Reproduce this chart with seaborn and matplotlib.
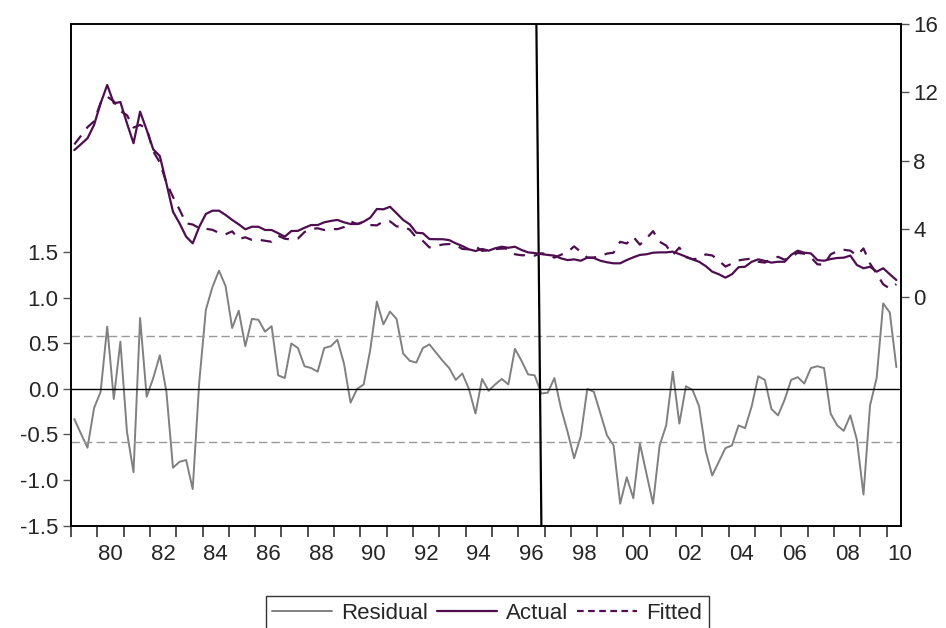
import matplotlib
matplotlib.use("Agg")
import matplotlib.pyplot as plt
import matplotlib.ticker as mticker
from matplotlib.lines import Line2D
import pandas as pd
import seaborn as sns

sns.set_theme(style="white")
plt.rcParams["font.family"] = ["Liberation Sans", "DejaVu Sans"]

PURPLE = "#4e0e50"
GREY = "#808080"
FS = 16

# quarterly sample 1979Q1 - 2010Q2
quarters = pd.period_range("1979Q1", "2010Q2", freq="Q")

residual = [
    -0.33, -0.49, -0.645, -0.21, -0.03, 0.685, -0.11, 0.52, -0.47, -0.915,
    0.78, -0.085, 0.12, 0.37, -0.03, -0.865, -0.80, -0.78, -1.10, 0.08,
    0.87, 1.12, 1.30, 1.13, 0.67, 0.86, 0.47, 0.77, 0.76, 0.63,
    0.69, 0.15, 0.12, 0.50, 0.45, 0.25, 0.23, 0.19, 0.45, 0.47,
    0.54, 0.28, -0.15, 0.00, 0.05, 0.43, 0.96, 0.71, 0.85, 0.77,
    0.39, 0.31, 0.29, 0.45, 0.49, 0.40, 0.31, 0.23, 0.10, 0.17,
    0.00, -0.27, 0.11, -0.02, 0.05, 0.11, 0.05, 0.44, 0.31, 0.16,
    0.15, -0.05, -0.04, 0.12, -0.21, -0.47, -0.76, -0.52, 0.00, -0.03,
    -0.27, -0.51, -0.62, -1.26, -0.97, -1.20, -0.60, -0.93, -1.26, -0.62,
    -0.40, 0.19, -0.38, 0.03, -0.01, -0.19, -0.68, -0.95, -0.80, -0.65,
    -0.62, -0.40, -0.43, -0.19, 0.14, 0.10, -0.22, -0.29, -0.12, 0.10,
    0.13, 0.06, 0.23, 0.25, 0.23, -0.27, -0.40, -0.46, -0.29, -0.56,
    -1.16, -0.18, 0.12, 0.94, 0.84, 0.24,
]

actual = [
    8.62, 8.96, 9.31, 10.09, 11.36, 12.43, 11.36, 11.43, 10.19, 9.02,
    10.87, 9.80, 8.66, 8.27, 6.67, 5.01, 4.33, 3.55, 3.16, 4.13,
    4.88, 5.07, 5.07, 4.82, 4.53, 4.27, 3.98, 4.13, 4.13, 3.94,
    3.94, 3.75, 3.55, 3.88, 3.89, 4.07, 4.23, 4.23, 4.39, 4.47,
    4.53, 4.39, 4.29, 4.29, 4.43, 4.66, 5.17, 5.15, 5.30, 4.92,
    4.53, 4.27, 3.78, 3.75, 3.41, 3.40, 3.40, 3.35, 3.16, 3.00,
    2.81, 2.71, 2.83, 2.73, 2.87, 2.96, 2.90, 2.96, 2.77, 2.63,
    2.59, 2.53, 2.48, 2.44, 2.28, 2.18, 2.22, 2.14, 2.32, 2.30,
    2.14, 2.05, 1.99, 1.99, 2.18, 2.34, 2.48, 2.52, 2.61, 2.63,
    2.63, 2.67, 2.53, 2.38, 2.22, 2.08, 1.83, 1.50, 1.35, 1.15,
    1.35, 1.76, 1.79, 2.08, 2.22, 2.13, 2.03, 2.08, 2.08, 2.48,
    2.73, 2.61, 2.57, 2.18, 2.14, 2.24, 2.30, 2.32, 2.44, 1.89,
    1.70, 1.79, 1.50, 1.70, 1.35, 1.01,
]

fitted = [
    8.95, 9.45, 9.96, 10.30, 11.39, 11.75, 11.47, 10.91, 10.66, 9.94,
    10.09, 9.89, 8.54, 7.90, 6.70, 5.88, 5.13, 4.33, 4.26, 4.05,
    4.01, 3.95, 3.77, 3.69, 3.86, 3.41, 3.51, 3.36, 3.37, 3.31,
    3.25, 3.60, 3.43, 3.38, 3.44, 3.82, 4.00, 4.04, 3.94, 4.00,
    3.99, 4.11, 4.44, 4.29, 4.38, 4.23, 4.21, 4.44, 4.45, 4.15,
    4.14, 3.96, 3.49, 3.30, 2.92, 3.00, 3.09, 3.12, 3.06, 2.83,
    2.81, 2.98, 2.72, 2.75, 2.82, 2.85, 2.85, 2.52, 2.46, 2.47,
    2.44, 2.58, 2.52, 2.32, 2.49, 2.65, 2.98, 2.66, 2.32, 2.33,
    2.41, 2.56, 2.61, 3.25, 3.15, 3.54, 3.08, 3.45, 3.87, 3.25,
    3.03, 2.48, 2.91, 2.35, 2.23, 2.27, 2.51, 2.45, 2.15, 1.80,
    1.97, 2.16, 2.22, 2.27, 2.08, 2.03, 2.25, 2.37, 2.20, 2.38,
    2.60, 2.55, 2.34, 1.93, 1.91, 2.51, 2.70, 2.78, 2.73, 2.45,
    2.86, 1.97, 1.38, 0.76, 0.51, 0.77,
]

resid_sd = 0.58                  # +/- 1 S.E. band
break_line = [1996.69, 1996.88]  # hand-drawn vertical marker (x at top, x at bottom)

df = pd.DataFrame({
    "t": [p.year + (p.quarter - 1) / 4 + 0.125 for p in quarters],
    "Residual": residual,
    "Actual": actual,
    "Fitted": fitted,
})

fig = plt.figure(figsize=(9.46, 6.28), dpi=100)
ax = fig.add_axes([0.0751, 0.1632, 0.8773, 0.7986])
ax2 = ax.twinx()

sns.lineplot(data=df, x="t", y="Residual", ax=ax, color=GREY, linewidth=1.4)
ax.axhline(0, color="black", linewidth=1.0)
for v in (resid_sd, -resid_sd):
    ax.axhline(v, color="#999999", linewidth=1.0, dashes=(6, 3))

sns.lineplot(data=df, x="t", y="Actual", ax=ax2, color=PURPLE, linewidth=1.6)
sns.lineplot(data=df, x="t", y="Fitted", ax=ax2, color=PURPLE, linewidth=1.6)
ax2.lines[-1].set_linestyle((0, (5, 4)))

ax.set_xlim(1979.0, 2010.55)
ax.set_ylim(-1.5, 4.01)
ax2.set_ylim(-13.36, 16.0)

ax.plot(break_line, [4.01, -1.5], color="black", linewidth=1.6, zorder=5)

# x axis: year ticks, labels centred on even years
ax.xaxis.set_major_locator(mticker.FixedLocator(range(1979, 2011)))
ax.xaxis.set_major_formatter(mticker.NullFormatter())
ax.xaxis.set_minor_locator(mticker.FixedLocator([y + 0.5 for y in range(1980, 2011, 2)]))
ax.xaxis.set_minor_formatter(mticker.FuncFormatter(lambda x, _: f"{int(x) % 100:02d}"))
ax.tick_params(axis="x", which="major", direction="out", length=8, width=1.2,
               color="#333333", bottom=True, labelbottom=False)
ax.tick_params(axis="x", which="minor", length=0, labelsize=FS, pad=13, bottom=True)

ax.set_yticks([-1.5, -1.0, -0.5, 0.0, 0.5, 1.0, 1.5])
ax.yaxis.set_major_formatter(mticker.FormatStrFormatter("%.1f"))
ax.tick_params(axis="y", direction="out", length=6, width=1.0, color="#555555",
               labelsize=FS, left=True, pad=3)
ax2.set_yticks([0, 4, 8, 12, 16])
ax2.tick_params(axis="y", direction="out", length=6, width=1.0, color="#555555",
                labelsize=FS, right=True, pad=3)

for a in (ax, ax2):
    a.set_xlabel("")
    a.set_ylabel("")
    a.grid(False)
    for s in a.spines.values():
        s.set_color("black")
        s.set_linewidth(1.2)

handles = [
    Line2D([], [], color=GREY, linewidth=1.4),
    Line2D([], [], color=PURPLE, linewidth=1.6),
    Line2D([], [], color=PURPLE, linewidth=1.6, linestyle=(0, (3, 2))),
]
leg = fig.legend(handles, ["Residual", "Actual", "Fitted"], loc="upper center",
                 bbox_to_anchor=(0.515, 0.051), borderaxespad=0, ncol=3,
                 fontsize=FS, frameon=True, fancybox=False, handlelength=2.7,
                 handletextpad=0.4, columnspacing=0.4, borderpad=0.3)
leg.get_frame().set_edgecolor("black")
leg.get_frame().set_linewidth(1.0)

fig.savefig("out.png", dpi=100)
